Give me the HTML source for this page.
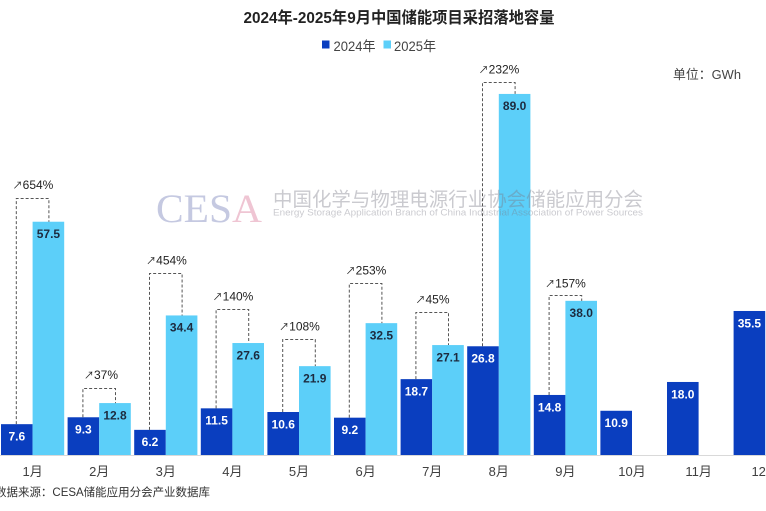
<!DOCTYPE html>
<html><head><meta charset="utf-8">
<style>
html,body{margin:0;padding:0;background:#fff;}
svg{display:block;}
text{font-family:"Liberation Sans","Noto Sans CJK SC",sans-serif;}
</style></head>
<body>
<svg width="766" height="511" viewBox="0 0 766 511" xmlns="http://www.w3.org/2000/svg">
<rect width="766" height="511" fill="#fff"/>
<!-- title -->
<text x="243.5" y="23" font-size="16" font-weight="bold" fill="#222" textLength="311" lengthAdjust="spacingAndGlyphs">2024年-2025年9月中国储能项目采招落地容量</text>
<!-- legend -->
<rect x="322" y="40.5" width="7.5" height="8" fill="#0a3ebf"/>
<text x="333.5" y="51" font-size="13.5" fill="#444" textLength="42" lengthAdjust="spacingAndGlyphs">2024年</text>
<rect x="383.5" y="40.5" width="7.5" height="8" fill="#5ccff9"/>
<text x="394" y="51" font-size="13.5" fill="#444" textLength="42" lengthAdjust="spacingAndGlyphs">2025年</text>
<!-- unit -->
<text x="673" y="79" font-size="13" fill="#444" textLength="68" lengthAdjust="spacingAndGlyphs">单位：GWh</text>

<!-- axis -->
<line x1="0" y1="455.5" x2="766" y2="455.5" stroke="#d9d9d9" stroke-width="1"/>

<!-- bars 2024 -->
<g fill="#0a3ebf">
<rect x="1" y="424.17" width="31.6" height="30.83"/>
<rect x="67.6" y="417.27" width="31.6" height="37.73"/>
<rect x="134.2" y="429.85" width="31.6" height="25.15"/>
<rect x="200.8" y="408.34" width="31.6" height="46.66"/>
<rect x="267.4" y="412" width="31.6" height="43"/>
<rect x="334" y="417.68" width="31.6" height="37.32"/>
<rect x="400.6" y="379.13" width="31.6" height="75.87"/>
<rect x="467.2" y="346.27" width="31.6" height="108.73"/>
<rect x="533.8" y="394.96" width="31.6" height="60.04"/>
<rect x="600.4" y="410.78" width="31.6" height="44.22"/>
<rect x="667" y="381.97" width="31.6" height="73.03"/>
<rect x="733.6" y="310.98" width="31.6" height="144.02"/>
</g>
<!-- bars 2025 -->
<g fill="#5ccff9">
<rect x="32.6" y="221.72" width="31.6" height="233.28"/>
<rect x="99.2" y="403.07" width="31.6" height="51.93"/>
<rect x="165.8" y="315.44" width="31.6" height="139.56"/>
<rect x="232.4" y="343.03" width="31.6" height="111.97"/>
<rect x="299" y="366.15" width="31.6" height="88.85"/>
<rect x="365.6" y="323.15" width="31.6" height="131.85"/>
<rect x="432.2" y="345.06" width="31.6" height="109.94"/>
<rect x="498.8" y="93.93" width="31.6" height="361.07"/>
<rect x="565.4" y="300.83" width="31.6" height="154.17"/>
</g>

<!-- watermark -->
<g>
<text x="156" y="222" font-family="Liberation Serif, serif" font-size="40" textLength="106" lengthAdjust="spacingAndGlyphs" fill="#5a64a8" fill-opacity="0.35" style="font-family:'Liberation Serif',serif">CES<tspan fill="#d05a80">A</tspan></text>
<text x="273" y="206" font-size="19.5" fill="#7a7a88" fill-opacity="0.4" textLength="370" lengthAdjust="spacingAndGlyphs">中国化学与物理电源行业协会储能应用分会</text>
<text x="273" y="215.5" font-size="9" fill="#7a7a88" fill-opacity="0.4" textLength="370" lengthAdjust="spacingAndGlyphs">Energy Storage Application Branch of China Industrial Association of Power Sources</text>
</g>

<!-- value labels 2024 -->
<g font-size="12" font-weight="bold" fill="#fff" text-anchor="middle">
<text x="16.8" y="440.5">7.6</text>
<text x="83.4" y="433.6">9.3</text>
<text x="150" y="446.2">6.2</text>
<text x="216.6" y="424.6">11.5</text>
<text x="283.2" y="428.3">10.6</text>
<text x="349.8" y="434">9.2</text>
<text x="416.4" y="395.4">18.7</text>
<text x="483" y="362.6">26.8</text>
<text x="549.6" y="411.3">14.8</text>
<text x="616.2" y="427.1">10.9</text>
<text x="682.8" y="398.3">18.0</text>
<text x="749.4" y="327.3">35.5</text>
</g>
<!-- value labels 2025 -->
<g font-size="12" font-weight="bold" fill="#1d2b3f" text-anchor="middle">
<text x="48.4" y="238">57.5</text>
<text x="115" y="419.4">12.8</text>
<text x="181.6" y="331.7">34.4</text>
<text x="248.2" y="359.3">27.6</text>
<text x="314.8" y="382.5">21.9</text>
<text x="381.4" y="339.5">32.5</text>
<text x="448" y="361.4">27.1</text>
<text x="514.6" y="110.2">89.0</text>
<text x="581.2" y="317.1">38.0</text>
</g>

<!-- brackets -->
<g fill="none" stroke="#555" stroke-width="1" stroke-dasharray="3,2">
<path d="M16.3 424.17 V198.5 H48.9 V221.72"/>
<path d="M82.9 417.27 V388.5 H115.5 V403.07"/>
<path d="M149.5 429.85 V273.5 H182.1 V315.44"/>
<path d="M216.1 408.34 V309.5 H248.7 V343.03"/>
<path d="M282.7 412 V339.5 H315.3 V366.15"/>
<path d="M349.3 417.68 V283.5 H381.9 V323.15"/>
<path d="M415.9 379.13 V312.5 H448.5 V345.06"/>
<path d="M482.5 346.27 V82.5 H515.1 V93.93"/>
<path d="M549.1 394.96 V295.5 H581.7 V300.83"/>
</g>
<!-- growth labels -->
<g font-size="12" fill="#222" text-anchor="middle">
<text x="33" y="189"><tspan font-size="10">↗</tspan>654%</text>
<text x="101" y="379"><tspan font-size="10">↗</tspan>37%</text>
<text x="166.5" y="264.7"><tspan font-size="10">↗</tspan>454%</text>
<text x="233" y="300.7"><tspan font-size="10">↗</tspan>140%</text>
<text x="299.5" y="330.7"><tspan font-size="10">↗</tspan>108%</text>
<text x="366" y="274.7"><tspan font-size="10">↗</tspan>253%</text>
<text x="432.5" y="303.3"><tspan font-size="10">↗</tspan>45%</text>
<text x="499" y="73.3"><tspan font-size="10">↗</tspan>232%</text>
<text x="565.5" y="287.3"><tspan font-size="10">↗</tspan>157%</text>
</g>

<!-- category labels -->
<g font-size="13" fill="#404040" text-anchor="middle">
<text x="32.6" y="476">1月</text>
<text x="99.2" y="476">2月</text>
<text x="165.8" y="476">3月</text>
<text x="232.4" y="476">4月</text>
<text x="299" y="476">5月</text>
<text x="365.6" y="476">6月</text>
<text x="432.2" y="476">7月</text>
<text x="498.8" y="476">8月</text>
<text x="565.4" y="476">9月</text>
<text x="632" y="476">10月</text>
<text x="698.6" y="476">11月</text>
<text x="765.2" y="476">12月</text>
</g>

<!-- source -->
<text x="-5" y="496" font-size="11.5" fill="#333" textLength="215" lengthAdjust="spacingAndGlyphs">数据来源：CESA储能应用分会产业数据库</text>
</svg>
</body></html>
